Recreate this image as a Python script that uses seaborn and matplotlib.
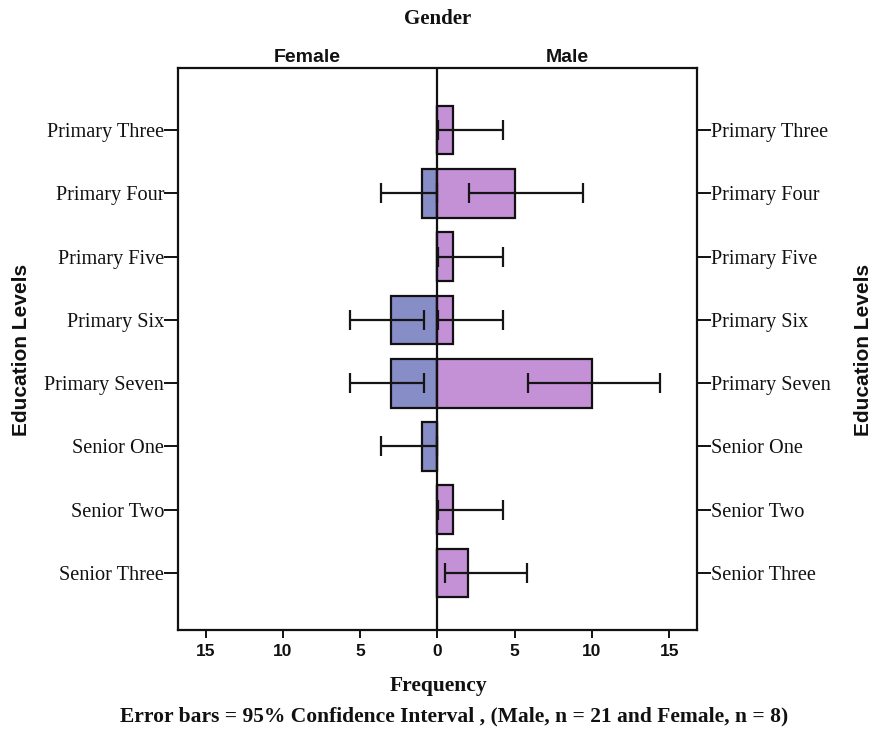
import numpy as np
import pandas as pd
import matplotlib
matplotlib.use("Agg")
import matplotlib.pyplot as plt
from matplotlib.ticker import FuncFormatter
import seaborn as sns

# Frequencies of education level by gender, with 95% confidence limits
levels = ["Primary Three", "Primary Four", "Primary Five", "Primary Six",
          "Primary Seven", "Senior One", "Senior Two", "Senior Three"]
female = [0, 1, 0, 3, 3, 1, 0, 0]
male = [1, 5, 1, 1, 10, 0, 1, 2]
female_lo = [np.nan, 0.05, np.nan, 0.89, 0.89, 0.05, np.nan, np.nan]
female_hi = [np.nan, 3.64, np.nan, 5.65, 5.65, 3.64, np.nan, np.nan]
male_lo = [0.05, 2.03, 0.05, 0.05, 5.85, np.nan, 0.05, 0.49]
male_hi = [4.24, 9.40, 4.24, 4.24, 14.38, np.nan, 4.24, 5.78]
xticks = [-15, -10, -5, 0, 5, 10, 15]

female_color = "#7b85d2"
male_color = "#c985e2"

sns.set_theme(style="white")
serif = ["Liberation Serif", "DejaVu Serif"]
sans = ["Liberation Sans", "DejaVu Sans"]

df = pd.DataFrame({
    "Education": levels * 2,
    "Gender": ["Female"] * len(levels) + ["Male"] * len(levels),
    "Signed": [-v for v in female] + list(male),
})

fig = plt.figure(figsize=(8.78, 7.33), dpi=100)
ax = fig.add_axes([0.2027, 0.1405, 0.5911, 0.7667])

sns.barplot(data=df, y="Education", x="Signed", hue="Gender", order=levels,
            hue_order=["Female", "Male"], dodge=False,
            palette={"Female": female_color, "Male": male_color},
            edgecolor="#111111", linewidth=1.6, width=0.77,
            orient="h", legend=False, errorbar=None, ax=ax)

pos = np.arange(len(levels))
f = np.array(female, float); m = np.array(male, float)
flo = np.array(female_lo); fhi = np.array(female_hi)
mlo = np.array(male_lo); mhi = np.array(male_hi)

mk = ~np.isnan(fhi)
ax.errorbar(-f[mk], pos[mk], xerr=[fhi[mk] - f[mk], f[mk] - flo[mk]],
            fmt="none", ecolor="#151515", elinewidth=1.6, capsize=7,
            capthick=1.6, zorder=5)
mk = ~np.isnan(mhi)
ax.errorbar(m[mk], pos[mk], xerr=[m[mk] - mlo[mk], mhi[mk] - m[mk]],
            fmt="none", ecolor="#151515", elinewidth=1.6, capsize=7,
            capthick=1.6, zorder=5)

ax.axvline(0, color="#111111", lw=1.6, zorder=6)

ax.set_xlim(-16.8, 16.8)
ax.set_ylim(len(levels) - 0.1, -0.98)
ax.set_xticks(xticks)
ax.xaxis.set_major_formatter(FuncFormatter(lambda v, p: f"{abs(int(v))}"))
ax.set_yticks(pos)
ax.set_yticklabels(levels)

for sp in ax.spines.values():
    sp.set_visible(True)
    sp.set_color("#111111")
    sp.set_linewidth(1.6)

ax.tick_params(axis="y", which="both", left=True, right=True, labelleft=True,
               labelright=True, direction="out", length=10, width=1.4,
               color="#111111", pad=0)
ax.tick_params(axis="x", bottom=True, direction="out", length=6, width=1.4,
               color="#111111", pad=4)
for lab in ax.get_yticklabels():
    lab.set_fontfamily(serif)
    lab.set_fontsize(14.6)
    lab.set_color("#111111")
for lab in ax.get_xticklabels():
    lab.set_fontfamily(sans)
    lab.set_fontweight("bold")
    lab.set_fontsize(12.5)
    lab.set_color("#111111")

ax.set_xlabel("")
ax.set_ylabel("")

fig.text(0.499, 0.974, "Gender", ha="center", va="center", family=serif,
         fontweight="bold", fontsize=15, color="#111111")
fig.text(0.350, 0.922, "Female", ha="center", va="center", family=sans,
         fontweight="bold", fontsize=14, color="#111111")
fig.text(0.646, 0.922, "Male", ha="center", va="center", family=sans,
         fontweight="bold", fontsize=14, color="#111111")
fig.text(0.499, 0.064, "Frequency", ha="center", va="center", family=serif,
         fontweight="bold", fontsize=15.5, color="#111111")
fig.text(0.517, 0.022,
         "Error bars = 95% Confidence Interval , (Male, n = 21 and Female, n = 8)",
         ha="center", va="center", family=serif, fontweight="bold",
         fontsize=15.5, color="#111111")
fig.text(0.025, 0.522, "Education Levels", ha="center", va="center",
         rotation=90, family=sans, fontweight="bold", fontsize=15,
         color="#111111")
fig.text(0.984, 0.522, "Education Levels", ha="center", va="center",
         rotation=90, family=sans, fontweight="bold", fontsize=15,
         color="#111111")

fig.savefig("out.png", dpi=100, facecolor="white")
